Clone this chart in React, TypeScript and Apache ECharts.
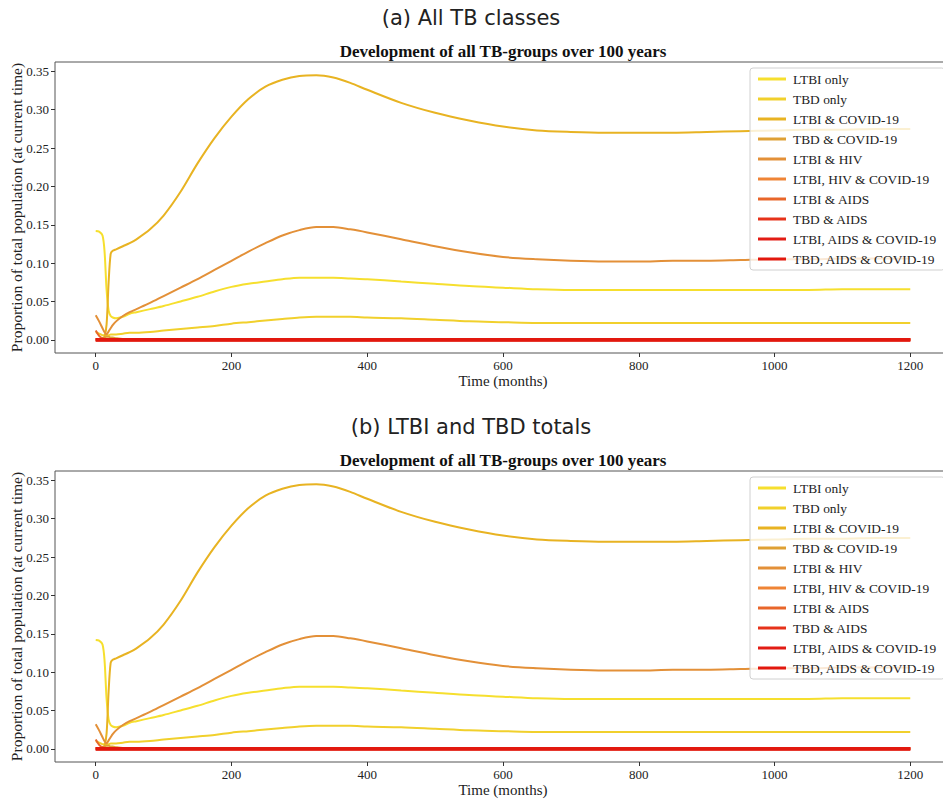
import React, { useEffect, useRef } from 'react';
import * as echarts from 'echarts';

const seriesNames = [
  'LTBI only',
  'TBD only',
  'LTBI & COVID-19',
  'TBD & COVID-19',
  'LTBI & HIV',
  'LTBI, HIV & COVID-19',
  'LTBI & AIDS',
  'TBD & AIDS',
  'LTBI, AIDS & COVID-19',
  'TBD, AIDS & COVID-19',
];

const seriesColors = [
  '#f6df2e',
  '#f1d02c',
  '#e8b322',
  '#dfa034',
  '#e39038',
  '#ef8436',
  '#e8662a',
  '#e6321a',
  '#e21c14',
  '#e2180e',
];

const months = [0, 5, 10, 13, 16, 19, 22, 25, 30, 40, 50, 60, 80, 100, 125, 150, 175, 200, 225, 250, 275, 300, 325, 350, 375, 400, 450, 500, 550, 600, 650, 700, 750, 800, 850, 900, 950, 1000, 1050, 1100, 1150, 1200];

const ltbiOnly = [0.142, 0.141, 0.136, 0.115, 0.065, 0.038, 0.031, 0.029, 0.028, 0.030, 0.034, 0.036, 0.040, 0.044, 0.050, 0.056, 0.063, 0.069, 0.073, 0.076, 0.079, 0.081, 0.081, 0.081, 0.080, 0.079, 0.076, 0.073, 0.070, 0.068, 0.066, 0.065, 0.065, 0.065, 0.065, 0.065, 0.065, 0.065, 0.065, 0.066, 0.066, 0.066];
const tbdOnly = [0.010, 0.008, 0.006, 0.006, 0.006, 0.006, 0.007, 0.007, 0.007, 0.008, 0.009, 0.009, 0.010, 0.012, 0.014, 0.016, 0.018, 0.021, 0.023, 0.025, 0.027, 0.029, 0.030, 0.030, 0.030, 0.029, 0.028, 0.026, 0.024, 0.023, 0.022, 0.022, 0.022, 0.022, 0.022, 0.022, 0.022, 0.022, 0.022, 0.022, 0.022, 0.022];
const ltbiCovid = [0.000, 0.000, 0.002, 0.004, 0.020, 0.075, 0.112, 0.116, 0.118, 0.122, 0.126, 0.131, 0.144, 0.162, 0.193, 0.230, 0.263, 0.291, 0.314, 0.330, 0.339, 0.344, 0.345, 0.342, 0.335, 0.326, 0.309, 0.296, 0.286, 0.278, 0.273, 0.271, 0.270, 0.270, 0.270, 0.271, 0.272, 0.273, 0.274, 0.274, 0.275, 0.275];
const tbdCovid = [0.000, 0.001, 0.002, 0.003, 0.004, 0.004, 0.003, 0.003, 0.002, 0.001, 0.001, 0.001, 0.000, 0.000, 0.000, 0.000, 0.000, 0.000, 0.000, 0.000, 0.000, 0.000, 0.000, 0.000, 0.000, 0.000, 0.000, 0.000, 0.000, 0.000, 0.000, 0.000, 0.000, 0.000, 0.000, 0.000, 0.000, 0.000, 0.000, 0.000, 0.000, 0.000];
const ltbiHiv = [0.032, 0.024, 0.015, 0.010, 0.007, 0.011, 0.015, 0.019, 0.024, 0.031, 0.036, 0.040, 0.048, 0.057, 0.068, 0.079, 0.091, 0.103, 0.115, 0.126, 0.136, 0.143, 0.147, 0.147, 0.144, 0.140, 0.131, 0.122, 0.114, 0.108, 0.105, 0.103, 0.102, 0.102, 0.103, 0.103, 0.104, 0.105, 0.105, 0.106, 0.106, 0.106];
const flatMonths = [0, 1200];
const flatZero = [0, 0];
const ltbiAidsMonths = [0, 5, 10, 16, 25, 1200];
const ltbiAids = [0.012, 0.005, 0.002, 0.001, 0.000, 0.000];

const seriesData = [
  [months, ltbiOnly],
  [months, tbdOnly],
  [months, ltbiCovid],
  [months, tbdCovid],
  [months, ltbiHiv],
  [flatMonths, flatZero],
  [ltbiAidsMonths, ltbiAids],
  [flatMonths, flatZero],
  [flatMonths, flatZero],
  [flatMonths, flatZero],
];

const xTicks = [0, 200, 400, 600, 800, 1000, 1200];
const yTicks = [0, 0.05, 0.1, 0.15, 0.2, 0.25, 0.3, 0.35];

const panelTitles = ['(a) All TB classes', '(b) LTBI and TBD totals'];
const chartTitle = 'Development of all TB-groups over 100 years';

const SERIF = "'Liberation Serif', 'Times New Roman', serif";

export default function App() {
  const ref = useRef<HTMLDivElement>(null);
  useEffect(() => {
    if (!ref.current) return;
    document.body.style.margin = '0';
    document.body.style.padding = '0';
    const chart = echarts.init(ref.current, null, { renderer: 'svg' });
    const offsets = [0, 409];
    const grids: any[] = [];
    const xAxes: any[] = [];
    const yAxes: any[] = [];
    const series: any[] = [];
    const legends: any[] = [];
    const graphics: any[] = [];
    offsets.forEach((off, g) => {
      grids.push({
        left: 55,
        top: 62 + off,
        width: 896,
        height: 291,
        show: true,
        containLabel: false,
        outerBoundsMode: 'none',
        borderColor: '#555',
        borderWidth: 1,
        backgroundColor: 'transparent',
      });
      xAxes.push({
        type: 'value',
        gridIndex: g,
        min: -60,
        max: 1260,
        splitLine: { show: false },
        axisLine: { show: false, onZero: false },
        axisTick: { show: true, inside: false, length: 4, customValues: xTicks, lineStyle: { color: '#333' } },
        axisLabel: {
          customValues: xTicks,
          margin: 6,
          color: '#222',
          fontFamily: SERIF,
          fontSize: 13,
          formatter: (v: number) => String(v),
        },
        name: 'Time (months)',
        nameLocation: 'middle',
        nameGap: 20,
        nameMoveOverlap: false,
        nameTextStyle: { fontFamily: SERIF, fontSize: 15, color: '#222' },
      });
      yAxes.push({
        type: 'value',
        gridIndex: g,
        min: -0.01725,
        max: 0.36225,
        splitLine: { show: false },
        axisLine: { show: false, onZero: false },
        axisTick: { show: true, inside: false, length: 4, customValues: yTicks, lineStyle: { color: '#333' } },
        axisLabel: {
          customValues: yTicks,
          margin: 6,
          color: '#222',
          fontFamily: SERIF,
          fontSize: 13,
          formatter: (v: number) => v.toFixed(2),
        },
        name: 'Proportion of total population (at current time)',
        nameLocation: 'middle',
        nameGap: 31,
        nameMoveOverlap: false,
        nameTextStyle: { fontFamily: SERIF, fontSize: 15.5, color: '#222' },
      });
      seriesNames.forEach((name, i) => {
        const [xs, ys] = seriesData[i];
        const isRed = i >= 7;
        series.push({
          type: 'line',
          name,
          xAxisIndex: g,
          yAxisIndex: g,
          data: xs.map((x, k) => [x, ys[k]]),
          showSymbol: false,
          symbol: 'none',
          smooth: 0.3,
          color: seriesColors[i],
          lineStyle: { color: seriesColors[i], width: isRed ? 3.5 : 2 },
          itemStyle: { color: seriesColors[i] },
          emphasis: { disabled: true },
        });
      });
      legends.push({
        orient: 'vertical',
        left: 750,
        top: 68 + off,
        itemWidth: 28,
        itemHeight: 3,
        itemGap: 0,
        icon: 'rect',
        selectedMode: false,
        padding: [1, 8, 1, 8],
        backgroundColor: 'rgba(255,255,255,0.8)',
        borderColor: '#d0d0d0',
        borderWidth: 1,
        borderRadius: 3,
        z: 10,
        textStyle: { fontFamily: SERIF, fontSize: 13.4, color: '#222', lineHeight: 20, padding: [0, 0, 0, 2] },
        data: seriesNames,
      });
      graphics.push({
        type: 'text',
        x: 471,
        y: 7 + off,
        style: {
          text: panelTitles[g],
          font: "21px 'DejaVu Sans', sans-serif",
          fill: '#222',
          align: 'center',
          verticalAlign: 'top',
        },
      });
      graphics.push({
        type: 'text',
        x: 503,
        y: 43 + off,
        style: {
          text: chartTitle,
          font: "bold 17px " + SERIF,
          fill: '#111',
          align: 'center',
          verticalAlign: 'top',
        },
      });
    });
    chart.setOption({
      animation: false,
      backgroundColor: '#fff',
      grid: grids,
      xAxis: xAxes,
      yAxis: yAxes,
      series,
      legend: legends,
      graphic: graphics,
      tooltip: { show: false },
    });
    return () => chart.dispose();
  }, []);
  return (
    <div
      ref={ref}
      style={{ position: 'absolute', left: 0, top: 0, width: 943, height: 802, background: '#fff' }}
    />
  );
}
